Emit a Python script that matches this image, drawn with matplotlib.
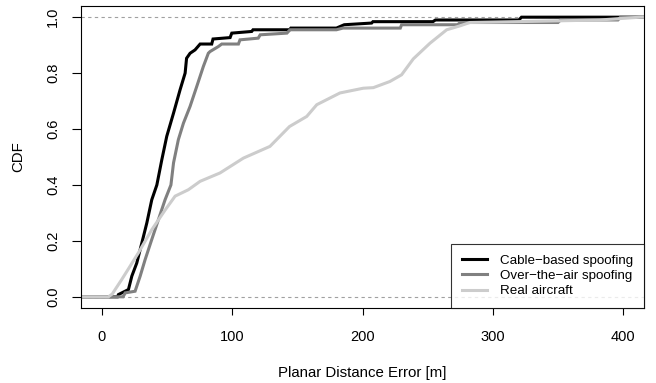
import matplotlib
matplotlib.use("Agg")
import matplotlib.pyplot as plt

plt.rcParams["font.family"] = ["Liberation Sans", "DejaVu Sans"]

# ECDF breakpoints (distance error [m], CDF)
cable_x = [12, 12.7, 20.4, 23, 26.8, 30.7, 34.5, 38.3, 42.2, 46, 49.8, 55, 60,
           63.9, 65, 67.7, 71.5, 75.4, 84.3, 85.3, 98.4, 99.7, 115, 116, 144,
           145, 180, 186, 207, 208, 254, 256, 320, 322]
cable_y = [0.0, 0.008, 0.026, 0.074, 0.121, 0.193, 0.264, 0.347, 0.4, 0.49,
           0.574, 0.657, 0.74, 0.80, 0.853, 0.871, 0.883, 0.904, 0.904, 0.922,
           0.927, 0.943, 0.949, 0.955, 0.955, 0.961, 0.961, 0.973, 0.979,
           0.984, 0.984, 0.99, 0.99, 1.0]

ota_x = [16.3, 17.9, 25.5, 29.4, 33.2, 38.3, 43.4, 48.5, 53, 55, 58.7, 62.6,
         67.7, 72.8, 77.9, 81.7, 83, 89.4, 92, 104.8, 106, 120, 121.5, 142,
         144.4, 180, 185, 229, 230, 273, 275, 350, 352, 396, 398]
ota_y = [0.0, 0.014, 0.02, 0.074, 0.133, 0.205, 0.276, 0.347, 0.40, 0.479,
         0.562, 0.621, 0.681, 0.752, 0.824, 0.871, 0.877, 0.895, 0.904, 0.904,
         0.919, 0.925, 0.937, 0.943, 0.955, 0.955, 0.961, 0.961, 0.973, 0.973,
         0.981, 0.981, 0.99, 0.99, 1.0]

real_x = [5, 8, 10.2, 15, 20.4, 28, 38.3, 48.5, 56.2, 66.4, 75.4, 90.7, 108.6,
          129, 144, 157.2, 164.9, 182.7, 200.6, 208.3, 221, 230, 239, 251.8,
          264.6, 274.8, 282.4, 330, 382, 413]
real_y = [0.0, 0.01, 0.026, 0.06, 0.1, 0.157, 0.24, 0.31, 0.36, 0.383, 0.413,
          0.443, 0.496, 0.538, 0.609, 0.645, 0.687, 0.729, 0.746, 0.748, 0.77,
          0.794, 0.851, 0.907, 0.955, 0.969, 0.981, 0.985, 0.99, 1.0]

labels = ["Cable\u2212based spoofing", "Over\u2212the\u2212air spoofing", "Real aircraft"]
colors = ["#000000", "#808080", "#cccccc"]

XLIM = (-16, 416)
YLIM = (-0.04, 1.04)


def main() -> None:
    fig = plt.figure(figsize=(6.56, 3.83), dpi=100)
    ax = fig.add_axes([81 / 656, 75 / 383, 563 / 656, 302 / 383])

    for yv in (0, 1):
        ax.axhline(yv, color="#a0a0a0", lw=0.8, ls=(0, (3, 3)), zorder=1)

    series = [(cable_x, cable_y), (ota_x, ota_y), (real_x, real_y)]
    for (xs, ys), label, color in zip(series, labels, colors):
        xs = [XLIM[0] - 10] + list(xs) + [XLIM[1] + 10]
        ys = [0.0] + list(ys) + [1.0]
        ax.plot(xs, ys, color=color, lw=2.2, label=label, zorder=2,
                solid_joinstyle="miter")

    ax.set_xlim(*XLIM)
    ax.set_ylim(*YLIM)
    ax.set_xticks([0, 100, 200, 300, 400])
    ax.set_yticks([0.0, 0.2, 0.4, 0.6, 0.8, 1.0])
    ax.set_yticklabels(["0.0", "0.2", "0.4", "0.6", "0.8", "1.0"],
                       rotation=90, va="center")
    ax.tick_params(direction="out", width=0.8, labelsize=10.5,
                   top=False, right=False)
    ax.tick_params(axis="x", length=5, pad=10.5)
    ax.tick_params(axis="y", length=6.5, pad=8.5)
    for sp in ax.spines.values():
        sp.set_linewidth(0.8)

    ax.set_xlabel("Planar Distance Error [m]", fontsize=10.8, labelpad=16)
    ax.set_ylabel("CDF", fontsize=10.8, labelpad=15)

    leg = ax.legend(loc="lower right", fontsize=9.6, frameon=True,
                    fancybox=False, edgecolor="black", borderaxespad=0,
                    handlelength=1.9, handletextpad=1.0, labelspacing=0.22,
                    borderpad=0.8)
    leg.get_frame().set_linewidth(0.8)

    fig.savefig("out.png", dpi=100)
    plt.close(fig)


if __name__ == "__main__":
    main()
